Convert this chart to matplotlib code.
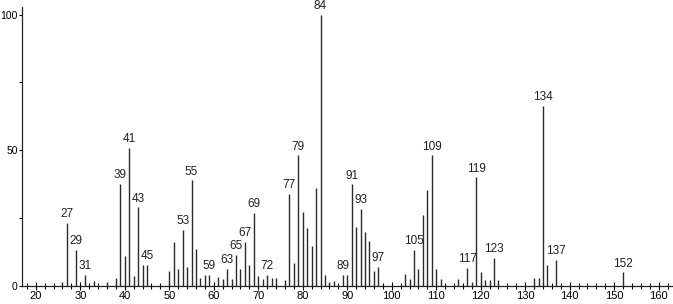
import matplotlib
matplotlib.use("Agg")
import matplotlib.pyplot as plt
from matplotlib.ticker import MultipleLocator

plt.rcParams["font.family"] = ["Liberation Sans", "DejaVu Sans"]

# m/z values and relative intensities
mz = [26, 27, 29, 31, 33, 36, 38, 39, 40, 41, 42, 43, 44, 45,
      50, 51, 52, 53, 54, 55, 56, 57, 58, 59, 61, 62, 63, 64, 65, 66, 67, 68, 69,
      70, 71, 72, 73, 74, 76, 77, 78, 79, 80, 81, 82, 83, 84, 85, 86, 87,
      89, 90, 91, 92, 93, 94, 95, 96, 97,
      103, 104, 105, 106, 107, 108, 109, 110, 111,
      115, 117, 118, 119, 120, 121, 122, 123, 124,
      132, 133, 134, 135, 137, 152]
intensity = [1.3, 23.2, 13.2, 4.0, 1.9, 1.6, 3.0, 37.6, 11.1, 51.0, 3.7, 29.0, 7.7, 7.7,
             5.5, 16.3, 6.1, 20.7, 7.1, 38.9, 13.6, 2.9, 4.1, 4.1, 3.3, 2.7, 6.2, 2.7, 11.5, 6.2, 16.3, 7.9, 26.9,
             3.6, 2.7, 4.2, 3.0, 3.0, 2.1, 34.0, 8.5, 48.1, 27.2, 21.5, 14.7, 36.1, 100.0, 4.2, 1.4, 2.0,
             4.2, 4.2, 37.4, 21.8, 28.4, 20.0, 16.6, 5.5, 7.1,
             4.6, 2.7, 13.2, 6.2, 26.0, 35.5, 48.1, 6.2, 2.7,
             2.7, 6.7, 1.4, 40.0, 5.0, 2.1, 2.1, 10.4, 2.1,
             2.9, 2.9, 66.3, 7.6, 9.5, 5.0]

labelled = [27, 29, 31, 39, 41, 43, 45, 53, 55, 59, 63, 65, 67, 69, 72, 77, 79,
            84, 89, 91, 93, 97, 105, 109, 117, 119, 123, 134, 137, 152]

fig = plt.figure(figsize=(6.73, 3.04), dpi=100)
ax = fig.add_axes([22 / 673, 18 / 304, 650 / 673, 279 / 304])

ax.vlines(mz, 0, intensity, color="#2a2a2a", linewidth=1.0)

lookup = dict(zip(mz, intensity))
for m in labelled:
    ax.annotate(str(m), (m, lookup[m]), xytext=(0, 2), textcoords="offset points",
                ha="center", va="bottom", fontsize=8.5, color="#222222")

ax.set_xlim(16.9, 163.0)
ax.set_ylim(0, 102.8)
ax.set_xticks([20, 30, 40, 50, 60, 70, 80, 90, 100, 110, 120, 130, 140, 150, 160])
ax.xaxis.set_minor_locator(MultipleLocator(2))
ax.yaxis.set_major_locator(MultipleLocator(50))
ax.yaxis.set_minor_locator(MultipleLocator(25))
ax.tick_params(axis="x", which="major", direction="inout", length=6, width=0.8, labelsize=8, pad=0.5)
ax.tick_params(axis="x", which="minor", direction="inout", length=4, width=0.8)
ax.tick_params(axis="y", which="major", direction="out", length=2.5, width=0.8, labelsize=7.5, pad=0.5)
ax.tick_params(axis="y", which="minor", direction="out", length=2.5, width=0.8)

for side in ["top", "right"]:
    ax.spines[side].set_visible(False)
for side in ["left", "bottom"]:
    ax.spines[side].set_linewidth(0.9)
    ax.spines[side].set_color("#222222")

fig.savefig("out.png", dpi=100)
